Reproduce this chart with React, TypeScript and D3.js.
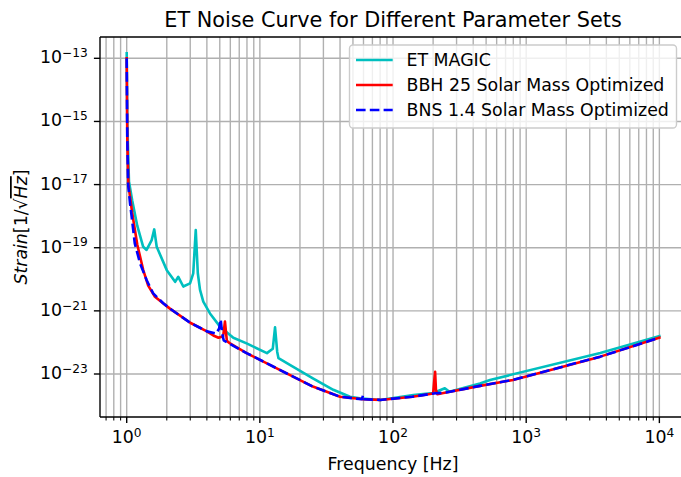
import React from 'react';
import * as d3 from 'd3';

// ET MAGIC curve
const freqET = [1.0, 1.01, 1.04, 1.1, 1.2, 1.33, 1.41, 1.54, 1.61, 1.68, 2.0, 2.31, 2.44, 2.66, 2.99, 3.16, 3.3, 3.42, 3.55, 3.76, 4.22, 5.02, 6.32, 7.95, 11.3, 12.5, 13.0, 13.5, 13.8, 16.8, 25.2, 35.6, 47.5, 56.3, 80, 142, 200, 245, 265, 450, 535, 3600, 10000];
const strainET = [1.45e-13, 1.0e-15, 1.26e-17, 3.16e-18, 5.0e-19, 1.07e-19, 8.5e-20, 1.74e-19, 3.8e-19, 1.07e-19, 1.95e-20, 8.3e-21, 1.2e-20, 5.9e-21, 7.4e-21, 1.55e-20, 3.6e-19, 1.55e-20, 4.7e-21, 1.95e-21, 8.3e-22, 3.16e-22, 1.41e-22, 9.3e-23, 4.6e-23, 6.3e-23, 3.0e-22, 5.0e-23, 3.16e-23, 1.95e-23, 7.2e-24, 3.16e-24, 1.9e-24, 1.7e-24, 1.51e-24, 2.14e-24, 2.5e-24, 3.55e-24, 2.75e-24, 5.0e-24, 6.5e-24, 4.6e-23, 1.58e-22];

// BBH 25 Solar Mass Optimized
const freqBBH = [1.0, 1.01, 1.03, 1.1, 1.2, 1.33, 1.45, 1.63, 2.1, 3.0, 4.0, 4.47, 4.89, 5.3, 5.47, 5.65, 5.97, 7.95, 14.1, 25, 40, 60, 80, 140, 200, 204, 207, 210, 215, 250, 450, 797, 3600, 10000];
const strainBBH = [1.0e-13, 3.16e-16, 1.0e-17, 1.26e-18, 1.26e-19, 2.0e-20, 6.3e-21, 2.8e-21, 1.2e-21, 4.2e-22, 2.24e-22, 1.66e-22, 1.41e-22, 1.58e-22, 4.6e-22, 1.12e-22, 9.3e-23, 4.6e-23, 1.35e-23, 4.0e-24, 1.9e-24, 1.58e-24, 1.51e-24, 1.9e-24, 2.4e-24, 6.3e-24, 1.17e-23, 3.16e-24, 2.3e-24, 2.6e-24, 4.2e-24, 6.5e-24, 3.55e-23, 1.41e-22];

// BNS 1.4 Solar Mass Optimized
const freqBNS = [1.0, 1.01, 1.025, 1.06, 1.09, 1.15, 1.26, 1.41, 1.58, 1.88, 2.1, 3.0, 4.0, 4.7, 4.95, 5.08, 5.2, 5.35, 5.97, 7.95, 14.1, 25, 40, 58.5, 59.5, 60.5, 80, 140, 200, 250, 450, 797, 3600, 10000];
const strainBNS = [1.0e-13, 3.16e-16, 1.0e-17, 2.5e-18, 9.5e-19, 1.38e-19, 3.2e-20, 9.5e-21, 3.6e-21, 1.74e-21, 1.2e-21, 4.2e-22, 2.24e-22, 1.9e-22, 2.8e-22, 5.4e-22, 2.0e-22, 1.17e-22, 8.9e-23, 4.6e-23, 1.35e-23, 4.0e-24, 1.9e-24, 1.58e-24, 2.14e-24, 1.58e-24, 1.51e-24, 1.9e-24, 2.4e-24, 2.6e-24, 4.2e-24, 6.5e-24, 3.55e-23, 1.41e-22];

const seriesNames = ['ET MAGIC', 'BBH 25 Solar Mass Optimized', 'BNS 1.4 Solar Mass Optimized'];
const seriesColors = ['#00bfbf', '#ff0000', '#0000ff'];
const xTickExps = [0, 1, 2, 3, 4];
const yTickExps = [-13, -15, -17, -19, -21, -23];

const FONT = 'DejaVu Sans, sans-serif';

export default function App() {
  const W = 681, H = 477;
  const left = 100, right = 686, top = 37, bottom = 417;
  const x = d3.scaleLog().domain([Math.pow(10, -0.2005), Math.pow(10, 4.2)]).range([left, right]);
  const y = d3.scaleLog().domain([Math.pow(10, -24.362), Math.pow(10, -12.325)]).range([bottom, top]);

  const line = d3.line<[number, number]>().x(d => x(d[0])).y(d => y(d[1]));
  const dashPattern = '9.6,4.2';
  const series = [
    { f: freqET, s: strainET, dash: undefined as string | undefined },
    { f: freqBBH, s: strainBBH, dash: undefined },
    { f: freqBNS, s: strainBNS, dash: dashPattern },
  ];

  const [d0, d1] = x.domain();
  const minorTicks: number[] = [];
  for (let e = -1; e <= 4; e++) {
    for (let k = 2; k <= 9; k++) {
      const v = k * Math.pow(10, e);
      if (v >= d0 && v <= d1) minorTicks.push(v);
    }
  }
  const majorX = xTickExps.map(e => Math.pow(10, e));
  const majorY = yTickExps.map(e => Math.pow(10, e));

  const gridColor = '#b0b0b0';
  const tickLen = 6.1, minorLen = 3.5;
  const fs = 17.36, fsSup = 12.2;

  const legX = 349.5, legY = 45, legW = 327, legH = 83;
  const rowY = [60, 85, 110];

  return (
    <svg width={W} height={H} style={{ position: 'absolute', left: 0, top: 0, background: '#fff' }} fontFamily={FONT}>
      <defs>
        <clipPath id="plotclip">
          <rect x={left} y={top} width={right - left} height={bottom - top} />
        </clipPath>
      </defs>
      <rect x={0} y={0} width={W} height={H} fill="#fff" />
      {/* grid */}
      <g stroke={gridColor} strokeWidth={1.39}>
        {[...minorTicks, ...majorX].map((v, i) => (
          <line key={'gx' + i} x1={x(v)} x2={x(v)} y1={top} y2={bottom} />
        ))}
        {majorY.map((v, i) => (
          <line key={'gy' + i} x1={left} x2={right} y1={y(v)} y2={y(v)} />
        ))}
      </g>
      {/* series */}
      <g clipPath="url(#plotclip)" fill="none" strokeLinejoin="round">
        {series.map((sr, i) => (
          <path key={i}
            d={line(sr.f.map((f, j) => [f, sr.s[j]] as [number, number])) || ''}
            stroke={seriesColors[i]} strokeWidth={2.6}
            strokeDasharray={sr.dash} strokeLinecap={sr.dash ? 'butt' : 'square'} />
        ))}
      </g>
      {/* spines */}
      <g stroke="#000" strokeWidth={1.39} fill="none">
        <line x1={left} x2={left} y1={top} y2={bottom} />
        <line x1={left} x2={right} y1={bottom} y2={bottom} />
        <line x1={left} x2={right} y1={top} y2={top} />
        <line x1={right} x2={right} y1={top} y2={bottom} />
      </g>
      {/* ticks */}
      <g stroke="#000">
        {majorX.map((v, i) => (
          <line key={'tx' + i} x1={x(v)} x2={x(v)} y1={bottom} y2={bottom + tickLen} strokeWidth={1.39} />
        ))}
        {minorTicks.map((v, i) => (
          <line key={'mx' + i} x1={x(v)} x2={x(v)} y1={bottom} y2={bottom + minorLen} strokeWidth={1.04} />
        ))}
        {majorY.map((v, i) => (
          <line key={'ty' + i} x1={left - tickLen} x2={left} y1={y(v)} y2={y(v)} strokeWidth={1.39} />
        ))}
      </g>
      {/* tick labels */}
      <g fontSize={fs} fill="#000">
        {xTickExps.map((e, i) => (
          <text key={'lx' + i} x={x(Math.pow(10, e))} y={443.3} textAnchor="middle">
            <tspan>10</tspan>
            <tspan dy={-6.3} fontSize={fsSup}>{String(e)}</tspan>
          </text>
        ))}
        {yTickExps.map((e, i) => (
          <text key={'ly' + i} x={87.8} y={y(Math.pow(10, e)) + 5} textAnchor="end">
            <tspan>10</tspan>
            <tspan dy={-6.3} fontSize={fsSup}>{'\u2212' + String(-e)}</tspan>
          </text>
        ))}
      </g>
      {/* axis labels */}
      <text x={(left + right) / 2} y={469.5} textAnchor="middle" fontSize={fs}>Frequency [Hz]</text>
      <text transform={`translate(27,${(top + bottom) / 2}) rotate(-90)`} textAnchor="middle" fontSize={fs}>
        <tspan fontStyle="italic">Strain</tspan>
        <tspan>[1/√</tspan>
        <tspan fontStyle="italic" textDecoration="overline">Hz</tspan>
        <tspan>]</tspan>
      </text>
      {/* title */}
      <text x={(left + right) / 2} y={27} textAnchor="middle" fontSize={20.8}>ET Noise Curve for Different Parameter Sets</text>
      {/* legend */}
      <g>
        <rect x={legX} y={legY} width={legW} height={legH} rx={3.5} fill="#fff" fillOpacity={0.8} stroke="#cccccc" strokeWidth={1.39} />
        {seriesNames.map((n, i) => (
          <g key={'lg' + i}>
            <line x1={356} x2={392.7} y1={rowY[i]} y2={rowY[i]} stroke={seriesColors[i]} strokeWidth={2.6}
              strokeDasharray={i === 2 ? dashPattern : undefined} />
            <text x={406.5} y={rowY[i] + 6} fontSize={fs}>{n}</text>
          </g>
        ))}
      </g>
    </svg>
  );
}
